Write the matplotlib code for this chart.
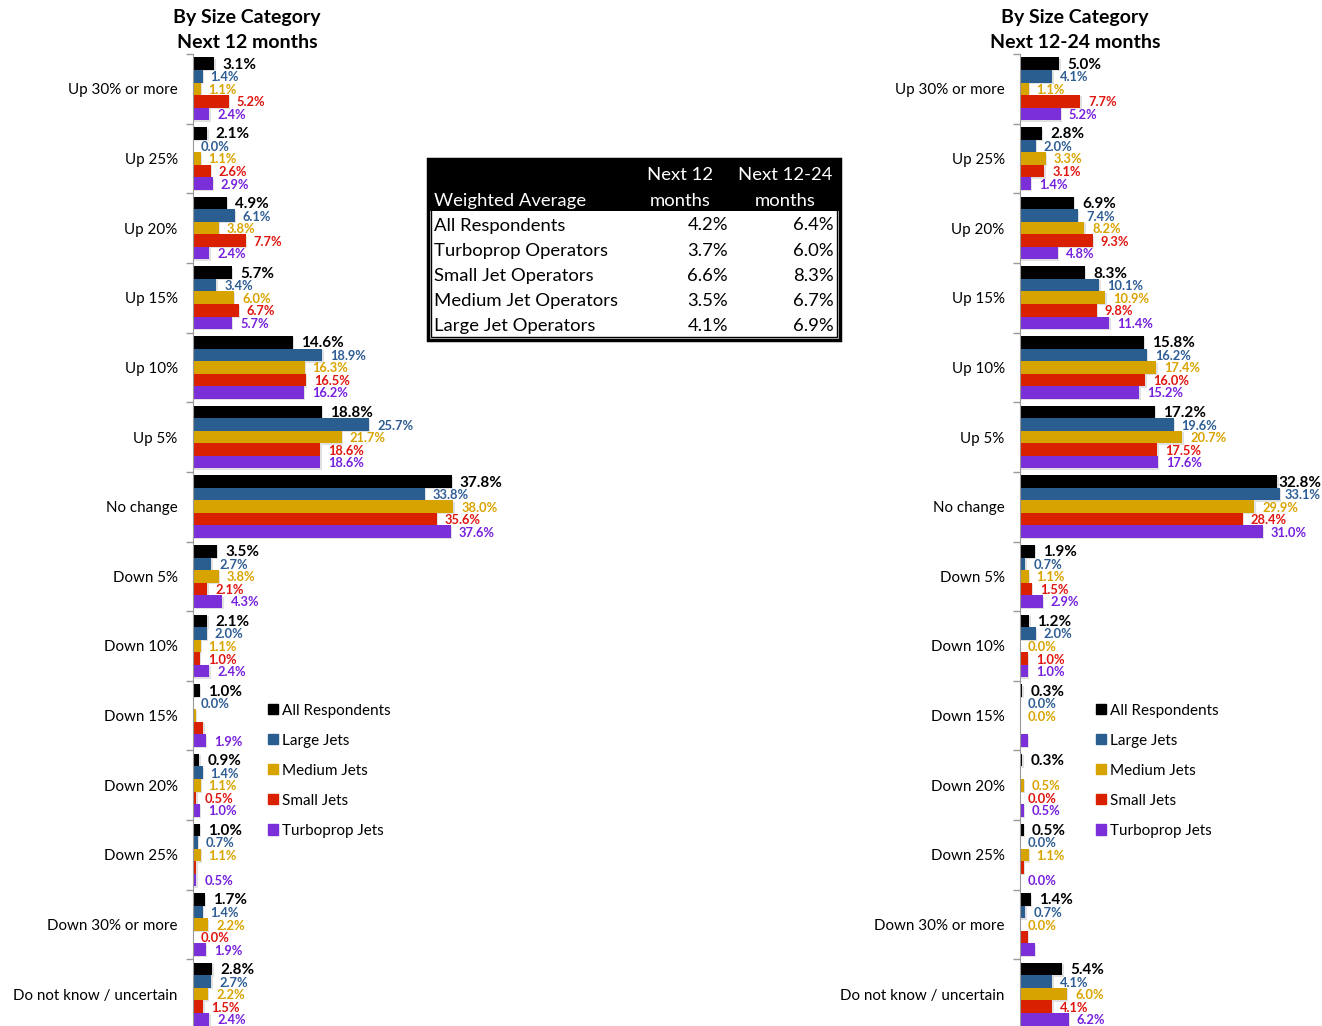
import matplotlib.pyplot as plt
import matplotlib.patheffects as pe
from matplotlib.patches import Patch, Rectangle
import numpy as np

plt.rcParams['font.family'] = ['Lato', 'DejaVu Sans']

categories = ["Up 30% or more", "Up 25%", "Up 20%", "Up 15%", "Up 10%", "Up 5%",
              "No change", "Down 5%", "Down 10%", "Down 15%", "Down 20%",
              "Down 25%", "Down 30% or more", "Do not know / uncertain"]
series_names = ["All Respondents", "Large Jets", "Medium Jets", "Small Jets", "Turboprop Jets"]
bar_colors = ["#000000", "#2A5E91", "#D6A300", "#D92100", "#7B2FD8"]
text_colors = ["#000000", "#2E5D94", "#D9A300", "#E0150F", "#7620DD"]

# next 12 months
n12_all = [3.1, 2.1, 4.9, 5.7, 14.6, 18.8, 37.8, 3.5, 2.1, 1.0, 0.9, 1.0, 1.7, 2.8]
n12_large = [1.4, 0.0, 6.1, 3.4, 18.9, 25.7, 33.8, 2.7, 2.0, 0.0, 1.4, 0.7, 1.4, 2.7]
n12_medium = [1.1, 1.1, 3.8, 6.0, 16.3, 21.7, 38.0, 3.8, 1.1, 0.4, 1.1, 1.1, 2.2, 2.2]
n12_small = [5.2, 2.6, 7.7, 6.7, 16.5, 18.6, 35.6, 2.1, 1.0, 1.5, 0.5, 0.5, 0.0, 1.5]
n12_turbo = [2.4, 2.9, 2.4, 5.7, 16.2, 18.6, 37.6, 4.3, 2.4, 1.9, 1.0, 0.5, 1.9, 2.4]
n12_hidden = [(9, 2), (9, 3), (11, 3)]

# next 12-24 months
n24_all = [5.0, 2.8, 6.9, 8.3, 15.8, 17.2, 32.8, 1.9, 1.2, 0.3, 0.3, 0.5, 1.4, 5.4]
n24_large = [4.1, 2.0, 7.4, 10.1, 16.2, 19.6, 33.1, 0.7, 2.0, 0.0, 0.0, 0.0, 0.7, 4.1]
n24_medium = [1.1, 3.3, 8.2, 10.9, 17.4, 20.7, 29.9, 1.1, 0.0, 0.0, 0.5, 1.1, 0.0, 6.0]
n24_small = [7.7, 3.1, 9.3, 9.8, 16.0, 17.5, 28.4, 1.5, 1.0, 0.0, 0.0, 0.5, 1.0, 4.1]
n24_turbo = [5.2, 1.4, 4.8, 11.4, 15.2, 17.6, 31.0, 2.9, 1.0, 1.0, 0.5, 0.0, 1.9, 6.2]
n24_hidden = [(9, 3), (9, 4), (10, 1), (11, 3), (12, 3), (12, 4)]

table_rows = ["All Respondents", "Turboprop Operators", "Small Jet Operators",
              "Medium Jet Operators", "Large Jet Operators"]
table_n12 = [4.2, 3.7, 6.6, 3.5, 4.1]
table_n24 = [6.4, 6.0, 8.3, 6.7, 6.9]

W, H = 1322, 1026
fig = plt.figure(figsize=(W / 100, H / 100), dpi=100)
value_labels = []


def fx(x):
    return x / W


def fy(y):
    return 1 - y / H


def draw_panel(x0, xmax, scale, series, hidden, title, title_x, legend_x):
    y_top, y_bot = 54, 1029
    width = xmax * scale
    ax = fig.add_axes([fx(x0), fy(y_bot), width / W, (y_bot - y_top) / H])
    pos = np.arange(len(categories))
    h = 0.18
    for j, vals in enumerate(series):
        yy = pos + (j - 2) * h
        bars = ax.barh(yy, vals, height=h, color=bar_colors[j], linewidth=0)
        for b in bars:
            b.set_path_effects([pe.SimplePatchShadow(offset=(1, -1), shadow_rgbFace="#999999", alpha=0.3),
                                pe.Normal()])
        for i, v in enumerate(vals):
            if (i, j) in hidden:
                continue
            t = ax.annotate(f"{v:.1f}%", (v, yy[i]), xytext=(8, -1), textcoords="offset pixels",
                            ha="left", va="center", fontweight="bold", color=text_colors[j],
                            fontsize=11 if j == 0 else 9.3, annotation_clip=False)
            value_labels.append(t)
    ax.set_xlim(0, xmax)
    ax.set_ylim(len(categories) - 0.5, -0.5)
    ax.set_yticks(pos)
    ax.set_yticklabels(categories, fontsize=10.9)
    ax.tick_params(axis="y", which="major", length=0, pad=11)
    ax.set_yticks(np.arange(-0.5, len(categories), 1), minor=True)
    ax.tick_params(axis="y", which="minor", length=5, color="#999999", width=1)
    ax.set_xticks([])
    for s in ["top", "right", "bottom"]:
        ax.spines[s].set_visible(False)
    ax.spines["left"].set_color("#999999")
    ax.patch.set_alpha(0)
    fig.text(fx(title_x), fy(9), title, ha="center", va="top", fontweight="bold",
             fontsize=14, linespacing=1.55)
    handles = [Patch(color=c, label=n) for c, n in zip(bar_colors, series_names)]
    fig.legend(handles=handles, loc="upper left", bbox_to_anchor=(fx(legend_x), fy(696)),
               frameon=False, fontsize=11, handlelength=0.65, handleheight=0.65,
               handletextpad=0.3, labelspacing=1.05, borderpad=0)
    return ax


draw_panel(193, 50, 6.85, [n12_all, n12_large, n12_medium, n12_small, n12_turbo],
           n12_hidden, "By Size Category\nNext 12 months", 247, 260)
draw_panel(1020, 38, 7.84, [n24_all, n24_large, n24_medium, n24_small, n24_turbo],
           n24_hidden, "By Size Category\nNext 12-24 months", 1075, 1088)

# weighted average table
tx0, tx1, ty0, ty1 = 428, 840, 159, 340
fig.add_artist(Rectangle((fx(tx0), fy(ty1)), fx(tx1 - tx0), (ty1 - ty0) / H,
                         transform=fig.transFigure, facecolor="white", edgecolor="black", lw=2.5))
fig.add_artist(Rectangle((fx(tx0 + 3), fy(ty1 - 3)), fx(tx1 - tx0 - 6), (ty1 - ty0 - 6) / H,
                         transform=fig.transFigure, facecolor="none", edgecolor="black", lw=1))
fig.add_artist(Rectangle((fx(tx0), fy(211)), fx(tx1 - tx0), (211 - ty0) / H,
                         transform=fig.transFigure, facecolor="black", edgecolor="none"))
tfs = 13.3
fig.text(fx(434), fy(201), "Weighted Average", color="white", fontsize=tfs, va="center")
fig.text(fx(680), fy(175), "Next 12", color="white", fontsize=tfs, va="center", ha="center")
fig.text(fx(680), fy(201), "months", color="white", fontsize=tfs, va="center", ha="center")
fig.text(fx(785), fy(175), "Next 12-24", color="white", fontsize=tfs, va="center", ha="center")
fig.text(fx(785), fy(201), "months", color="white", fontsize=tfs, va="center", ha="center")
for k, name in enumerate(table_rows):
    yc = 225.5 + k * 25.2
    fig.text(fx(434), fy(yc), name, fontsize=tfs, va="center")
    fig.text(fx(728), fy(yc), f"{table_n12[k]:.1f}%", fontsize=tfs, va="center", ha="right")
    fig.text(fx(834), fy(yc), f"{table_n24[k]:.1f}%", fontsize=tfs, va="center", ha="right")

# pull labels back in if they run past the right edge
fig.canvas.draw()
renderer = fig.canvas.get_renderer()
for t in value_labels:
    bb = t.get_window_extent(renderer)
    over = bb.x1 - (W - 1)
    if over > 0:
        dx, dy = t.xyann
        t.xyann = (dx - over, dy)

fig.savefig("out.png", dpi=100)
